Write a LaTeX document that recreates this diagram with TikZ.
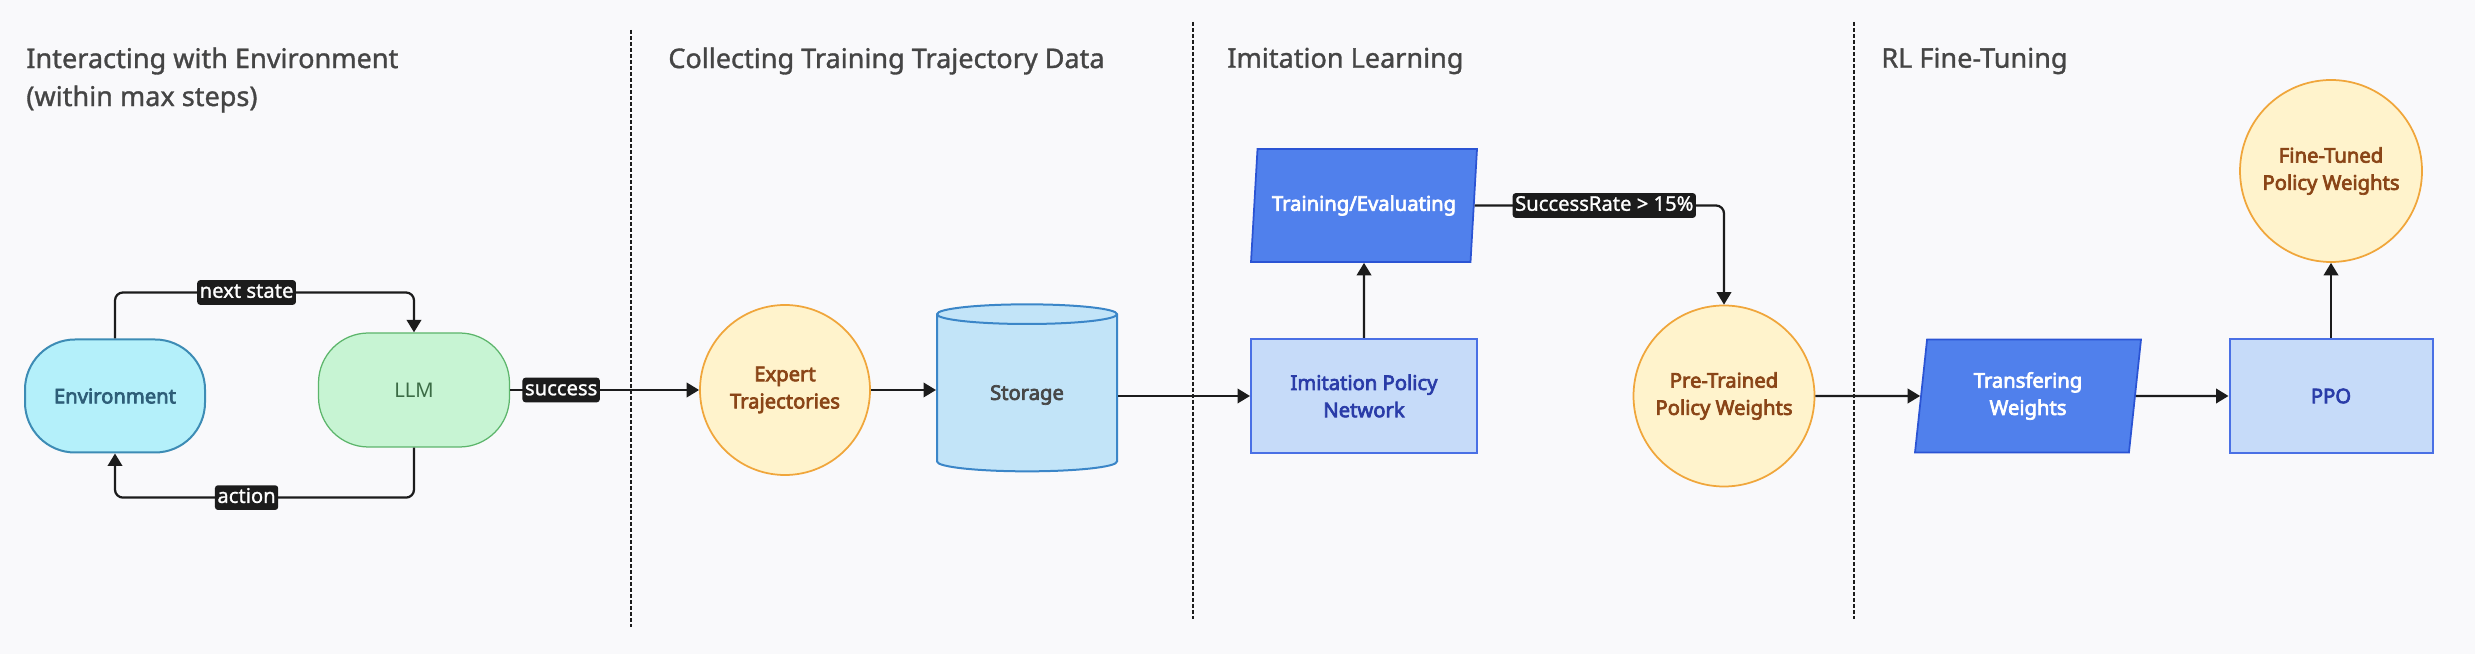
\documentclass[tikz,border=0pt]{standalone}
\usepackage{fontspec}
\setmainfont{Noto Sans}
\newfontfamily\shapefont{Noto Sans}[FakeBold=3.4]
\newfontfamily\headfont{Noto Sans}[FakeBold=1.2]
\usetikzlibrary{arrows.meta}
\usetikzlibrary{positioning}
\usetikzlibrary{shapes.geometric}
\definecolor{bgc}{rgb}{0.976, 0.976, 0.984}
\definecolor{ink}{rgb}{0.11, 0.11, 0.11}
\definecolor{headc}{rgb}{0.27, 0.27, 0.27}
\definecolor{envfill}{rgb}{0.706, 0.941, 0.98}
\definecolor{envline}{rgb}{0.24, 0.55, 0.71}
\definecolor{envtext}{rgb}{0.18, 0.37, 0.47}
\definecolor{llmfill}{rgb}{0.78, 0.957, 0.827}
\definecolor{llmline}{rgb}{0.36, 0.71, 0.42}
\definecolor{llmtext}{rgb}{0.23, 0.42, 0.27}
\definecolor{wfill}{rgb}{1, 0.953, 0.8}
\definecolor{wline}{rgb}{0.94, 0.65, 0.23}
\definecolor{wtext}{rgb}{0.54, 0.27, 0.09}
\definecolor{stfill}{rgb}{0.76, 0.894, 0.973}
\definecolor{stline}{rgb}{0.23, 0.525, 0.784}
\definecolor{sttext}{rgb}{0.28, 0.28, 0.28}
\definecolor{pfill}{rgb}{0.776, 0.859, 0.976}
\definecolor{pline}{rgb}{0.29, 0.44, 0.9}
\definecolor{ptext}{rgb}{0.165, 0.235, 0.66}
\definecolor{tfill}{rgb}{0.314, 0.5, 0.925}
\definecolor{tline}{rgb}{0.17, 0.33, 0.83}
\tikzset{pill/.style = {rectangle, rounded corners = 1cm, minimum width = 3.6cm, minimum height = 2.26cm, line width = 0.04cm, font = \shapefont\fontsize{11.5}{15.5}\selectfont}}
\tikzset{disk/.style = {circle, fill = wfill, draw = wline, line width = 0.035cm, text = wtext, align = center, font = \shapefont\fontsize{11.5}{15.5}\selectfont}}
\tikzset{store/.style = {cylinder, shape border rotate = 90, aspect = 0.23, minimum width = 3.6cm, minimum height = 3.34cm, fill = stfill, draw = stline, line width = 0.04cm, text = sttext, font = \shapefont\fontsize{11.5}{15.5}\selectfont}}
\tikzset{box/.style = {rectangle, minimum height = 2.28cm, fill = pfill, draw = pline, line width = 0.04cm, text = ptext, align = center, font = \shapefont\fontsize{11.5}{15.5}\selectfont}}
\tikzset{slantbox/.style = {trapezium, trapezium left angle = 78.5, trapezium right angle = 101.5, trapezium stretches body, minimum width = 4.52cm, minimum height = 2.26cm, fill = tfill, draw = tline, line width = 0.035cm, text = white, align = center, font = \shapefont\fontsize{11.5}{15.5}\selectfont}}
\tikzset{lbl/.style = {fill = ink, text = white, rounded corners = 0.06cm, inner xsep = 0.05cm, inner ysep = 0.05cm, text height = 8.6pt, text depth = 2.6pt, font = \headfont\fontsize{11.5}{13}\selectfont}}
\tikzset{arr/.style = {draw = ink, line width = 0.045cm, -{Triangle[length = 0.25cm, width = 0.29cm]}}}
\tikzset{head/.style = {anchor = west, align = left, text = headc, inner sep = 0, font = \headfont\fontsize{15.4}{21.6}\selectfont}}
\tikzset{divider/.style = {draw = ink, line width = 0.022cm, dash pattern = on 0.08cm off 0.04cm}}

\begin{document}
\begin{tikzpicture}

      \useasboundingbox (0, 0) rectangle (49.5, 13.08);
      \fill [bgc] (0, 0) rectangle (49.5, 13.08);

      % section titles and dividers
      \node [head] (hint) at (0.52, 11.48) {Interacting with Environment\\(within max steps)};
      \node [head] (hcollect) at (13.36, 11.86) {Collecting Training Trajectory Data};
      \node [head] (himit) at (24.54, 11.86) {Imitation Learning};
      \node [head] (hrl) at (37.62, 11.86) {RL Fine-Tuning};

      \draw [divider] (12.62, 12.48) -- (12.62, 0.54);
      \draw [divider] (23.86, 12.64) -- (23.86, 0.70);
      \draw [divider] (37.08, 12.64) -- (37.08, 0.70);

      \node [pill, fill = envfill, draw = envline, text = envtext] (env) at (2.30, 5.16) {Environment};
      \node [pill, fill = llmfill, draw = llmline, text = llmtext, line width = 0.025cm, minimum width = 3.82cm, minimum height = 2.28cm, font = \fontsize{11.5}{15.5}\selectfont] (llm) at (8.28, 5.28) {LLM};
      \node [disk, minimum size = 3.4cm] (expert) at (15.70, 5.28) {Expert\\Trajectories};
      \node [store] (storage) at (20.54, 5.18) {Storage};
      \node [box, minimum width = 4.52cm] (imit) at (27.28, 5.16) {Imitation Policy\\Network};
      \node [slantbox] (train) at (27.28, 8.97) {Training/Evaluating};
      \node [disk, minimum size = 3.62cm] (pre) at (34.48, 5.16) {Pre-Trained\\Policy Weights};
      \node [slantbox] (transfer) at (40.56, 5.16) {Transfering\\Weights};
      \node [box, minimum width = 4.06cm] (ppo) at (46.62, 5.16) {PPO};
      \node [disk, minimum size = 3.64cm] (fine) at (46.62, 9.66) {Fine-Tuned\\Policy Weights};

      % connectors
      \draw [arr, rounded corners = 0.16cm] (env.north) -- ++(0, 0.92) -| node [lbl, pos = 0.22] {next state} (llm.north);
      \draw [arr, rounded corners = 0.16cm] (llm.south) -- ++(0, -1.0) -| node [lbl, pos = 0.28] {action} (env.south);
      \draw [arr] (llm.east) -- node [lbl, pos = 0.27] {success} (expert.west);
      \draw [arr] (expert.east) -- (expert.east -| storage.west);
      \draw [arr] (storage.east |- imit.west) -- (imit.west);
      \draw [arr] (imit.north) -- (train.south);
      \draw [arr, rounded corners = 0.16cm] (train.east) -| node [lbl, pos = 0.26] {SuccessRate > 15\%} (pre.north);
      \draw [arr] (pre.east) -- (transfer.west);
      \draw [arr] (transfer.east) -- (ppo.west);
      \draw [arr] (ppo.north) -- (fine.south);

\end{tikzpicture}
\end{document}
